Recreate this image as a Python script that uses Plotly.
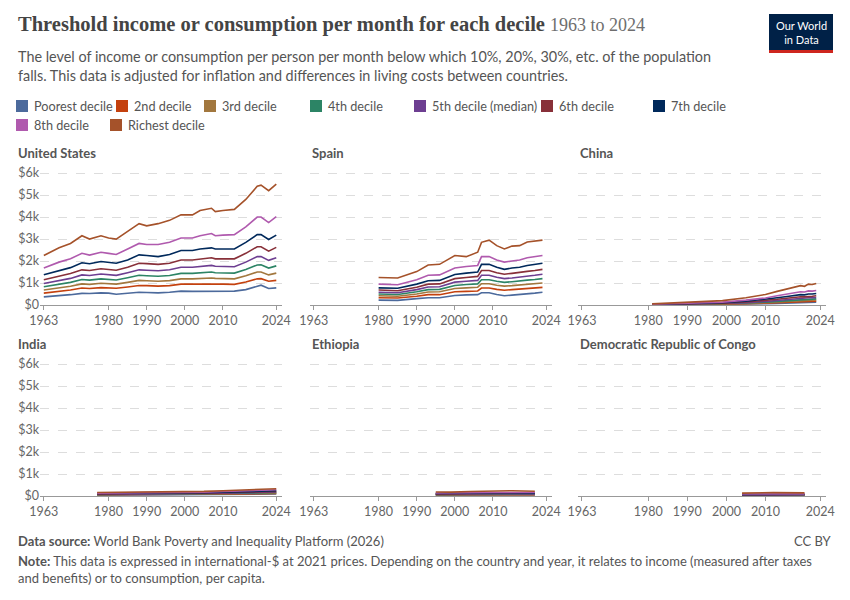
import plotly.graph_objects as go

deciles = ["Poorest decile", "2nd decile", "3rd decile", "4th decile", "5th decile (median)",
           "6th decile", "7th decile", "8th decile", "Richest decile"]
colors = ["#4C6A9C", "#C4410E", "#A2773E", "#2C8465", "#6D3E91", "#883039", "#00295B", "#B05AAE", "#A5522A"]

countries = ["United States", "Spain", "China", "India", "Ethiopia", "Democratic Republic of Congo"]

us_years = [1963,1967,1970,1973,1975,1978,1980,1982,1985,1988,1990,1993,1996,1999,2002,2004,2007,2008,2010,2013,2016,2019,2020,2022,2024]
us_vals = [
    [370,420,470,530,520,550,540,490,540,580,570,550,580,630,620,620,640,620,640,630,700,830,900,750,780],
    [540,610,680,770,750,790,770,760,820,890,880,860,880,950,950,960,970,950,950,940,1050,1190,1200,1080,1120],
    [680,770,850,960,940,990,970,950,1030,1120,1100,1080,1110,1190,1190,1210,1230,1210,1210,1190,1330,1500,1500,1370,1450],
    [830,930,1030,1160,1130,1190,1170,1140,1240,1350,1330,1310,1340,1440,1440,1470,1500,1470,1470,1450,1620,1820,1830,1680,1780],
    [980,1100,1210,1370,1340,1410,1380,1350,1470,1600,1580,1560,1600,1720,1720,1760,1800,1760,1760,1740,1950,2200,2200,2030,2150],
    [1150,1300,1430,1600,1570,1650,1620,1580,1720,1900,1880,1850,1900,2050,2050,2100,2150,2100,2100,2100,2350,2650,2650,2450,2620],
    [1380,1550,1700,1920,1880,1980,1950,1900,2050,2280,2250,2200,2300,2480,2480,2550,2600,2550,2550,2550,2850,3200,3200,2980,3180],
    [1680,1950,2100,2350,2270,2400,2350,2300,2550,2800,2750,2750,2850,3050,3050,3150,3250,3150,3180,3200,3550,4000,4000,3750,4020],
    [2250,2600,2800,3150,3000,3150,3050,3000,3350,3700,3600,3700,3850,4100,4100,4300,4400,4250,4300,4350,4800,5400,5450,5200,5500],
]

es_years = [1980,1985,1990,1993,1996,2000,2003,2006,2007,2009,2011,2013,2015,2017,2019,2021,2023]
es_vals = [
    [220,210,290,330,330,430,460,470,560,560,480,420,450,470,520,540,580],
    [330,320,400,470,470,600,620,640,770,770,710,670,700,720,750,770,800],
    [420,400,500,590,600,750,780,810,970,970,900,860,880,910,950,970,1000],
    [500,480,600,700,710,890,930,960,1150,1150,1080,1030,1060,1080,1130,1160,1200],
    [580,560,700,820,830,1040,1080,1120,1350,1350,1260,1200,1230,1260,1320,1350,1400],
    [680,650,810,950,960,1200,1250,1300,1570,1570,1470,1400,1440,1470,1530,1570,1620],
    [780,760,950,1100,1120,1390,1450,1500,1850,1850,1720,1620,1680,1720,1800,1850,1900],
    [950,920,1150,1350,1370,1680,1750,1800,2200,2200,2050,1950,2000,2050,2150,2200,2250],
    [1250,1230,1520,1820,1850,2250,2200,2400,2850,2950,2700,2550,2680,2700,2870,2900,2950],
]

cn_years = [1981,1990,1999,2005,2010,2013,2016,2018,2019,2020,2021,2022,2023]
cn_vals = [
    [8,15,24,40,57,75,95,110,110,110,120,120,125],
    [11,22,34,57,82,105,135,155,158,155,170,170,175],
    [13,28,43,72,105,135,170,200,200,200,215,215,225],
    [16,34,53,90,130,170,210,245,250,245,270,270,280],
    [19,41,65,110,160,210,260,300,305,300,330,330,340],
    [23,50,80,135,200,260,320,370,375,370,400,400,420],
    [28,60,100,170,250,330,400,460,470,460,500,500,520],
    [35,75,130,220,320,420,520,580,600,590,640,630,660],
    [50,110,200,330,480,620,750,860,880,850,950,930,980],
]

in_years = [1977,1983,1988,1994,2005,2010,2015,2020,2024]
in_vals = [
    [40,42,45,48,55,62,72,80,88],
    [55,57,60,63,72,82,95,105,115],
    [65,68,72,76,86,98,113,125,137],
    [75,78,83,87,99,113,130,145,158],
    [85,89,94,99,113,128,148,165,180],
    [97,101,107,113,130,147,170,188,206],
    [112,116,123,130,150,170,196,217,238],
    [132,136,144,152,178,202,232,255,282],
    [160,165,170,175,210,240,280,300,330],
]

et_years = [1995,1999,2004,2010,2015,2021]
et_vals = [
    [40,38,45,50,48,45],
    [55,52,62,68,66,62],
    [65,62,74,80,79,74],
    [75,72,85,92,92,86],
    [85,82,96,104,105,98],
    [97,94,110,118,121,112],
    [112,108,126,136,141,130],
    [135,130,150,162,170,156],
    [180,175,205,215,240,215],
]

cd_years = [2004,2012,2020]
cd_vals = [
    [18,22,20],
    [27,32,30],
    [34,40,38],
    [41,48,46],
    [49,57,55],
    [58,68,65],
    [70,82,78],
    [88,103,97],
    [130,155,140],
]

data = {
    "United States": (us_years, us_vals),
    "Spain": (es_years, es_vals),
    "China": (cn_years, cn_vals),
    "India": (in_years, in_vals),
    "Ethiopia": (et_years, et_vals),
    "Democratic Republic of Congo": (cd_years, cd_vals),
}

tick_years = [1963, 1980, 1990, 2000, 2010, 2024]
tick_vals = [0, 1000, 2000, 3000, 4000, 5000, 6000]
tick_text = ["$0", "$1k", "$2k", "$3k", "$4k", "$5k", "$6k"]

W, H = 850, 600
FONT = "Lato, sans-serif"


def px(x):
    return x / W


def py(y):
    return 1 - y / H


xdoms = [(px(40), px(282)), (px(310), px(552)), (px(578), px(826))]
ydoms = [(py(305), py(172)), (py(496), py(363))]

fig = go.Figure()
for i, c in enumerate(countries):
    r, col = divmod(i, 3)
    n = i + 1
    xa = "x" if n == 1 else f"x{n}"
    ya = "y" if n == 1 else f"y{n}"
    yrs, vals = data[c]
    for d in range(9):
        fig.add_trace(go.Scatter(x=yrs, y=vals[d], mode="lines", name=deciles[d],
                                 line=dict(color=colors[d], width=1.6),
                                 xaxis=xa, yaxis=ya, showlegend=False))
    xkey = "xaxis" if n == 1 else f"xaxis{n}"
    ykey = "yaxis" if n == 1 else f"yaxis{n}"
    fig.layout[xkey] = dict(domain=xdoms[col], anchor=ya, range=[1962, 2025.5], tickvals=tick_years,
                            showgrid=False, showline=True, linecolor="#999", ticks="outside",
                            ticklen=4, tickcolor="#999", automargin=False,
                            tickfont=dict(size=12.5, color="#666", family=FONT), zeroline=False)
    fig.layout[ykey] = dict(domain=ydoms[r], anchor=xa, range=[0, 6050], tickvals=tick_vals,
                            ticktext=tick_text if col == 0 else [""] * 7, automargin=False,
                            showgrid=True, gridcolor="#ddd", griddash="dash", zeroline=False,
                            tickfont=dict(size=12.5, color="#666", family=FONT))
    fig.add_annotation(text=f"<b>{c}</b>", x=px(16) if col == 0 else xdoms[col][0], xanchor="left",
                       y=py(153) if r == 0 else py(344), yanchor="middle", xref="paper", yref="paper",
                       showarrow=False, font=dict(size=13, color="#555", family=FONT))

# manual legend: square swatch + label
legend_pos = [(16, 106), (116, 106), (204, 106), (310, 106), (414, 106), (541, 106), (653, 106),
              (16, 125), (110, 125)]
for d in range(9):
    lx, ly = legend_pos[d]
    fig.add_shape(type="rect", xref="paper", yref="paper", x0=px(lx), x1=px(lx + 12),
                  y0=py(ly + 6), y1=py(ly - 6), fillcolor=colors[d], line=dict(width=0))
    fig.add_annotation(text=deciles[d], x=px(lx + 16), y=py(ly), xref="paper", yref="paper",
                       xanchor="left", yanchor="middle", showarrow=False,
                       font=dict(size=12.7, color="#555", family=FONT))

fig.update_layout(
    width=W, height=H, plot_bgcolor="white", paper_bgcolor="white",
    margin=dict(l=0, r=0, t=0, b=0), showlegend=False,
    font=dict(family=FONT, color="#555"),
)

texts = [
    ("<b>Threshold income or consumption per month for each decile</b> <span style='font-size:18px;color:#6e6e6e'>1963 to 2024</span>",
     16, 24, dict(size=20.5, color="#444", family="Liberation Serif, serif")),
    ("The level of income or consumption per person per month below which 10%, 20%, 30%, etc. of the population<br>falls. This data is adjusted for inflation and differences in living costs between countries.",
     16, 66, dict(size=14.4, color="#555", family=FONT)),
    ("<b>Data source:</b> World Bank Poverty and Inequality Platform (2026)",
     16, 541, dict(size=13, color="#555", family=FONT)),
    ("<b>Note:</b> This data is expressed in international-$ at 2021 prices. Depending on the country and year, it relates to income (measured after taxes<br>and benefits) or to consumption, per capita.",
     16, 569, dict(size=13, color="#555", family=FONT)),
]
for t, x, y, f in texts:
    fig.add_annotation(text=t, x=px(x), y=py(y), xref="paper", yref="paper", xanchor="left",
                       yanchor="middle", align="left", showarrow=False, font=f)

fig.add_annotation(text="CC BY", x=px(834), xanchor="right", y=py(541), yanchor="middle",
                   xref="paper", yref="paper", showarrow=False, font=dict(size=13, color="#555", family=FONT))
# logo
fig.add_shape(type="rect", xref="paper", yref="paper", x0=px(769), x1=px(833), y0=py(50), y1=py(14),
              fillcolor="#002147", line=dict(width=0))
fig.add_shape(type="rect", xref="paper", yref="paper", x0=px(769), x1=px(833), y0=py(53), y1=py(50),
              fillcolor="#CE261E", line=dict(width=0))
fig.add_annotation(text="Our World<br>in Data", x=px(801), y=py(32), xref="paper", yref="paper",
                   xanchor="center", yanchor="middle",
                   showarrow=False, font=dict(size=11, color="white", family=FONT), align="center")

fig.write_html("out.html", config={"displayModeBar": False},
               post_script="document.body.style.margin='0';")
